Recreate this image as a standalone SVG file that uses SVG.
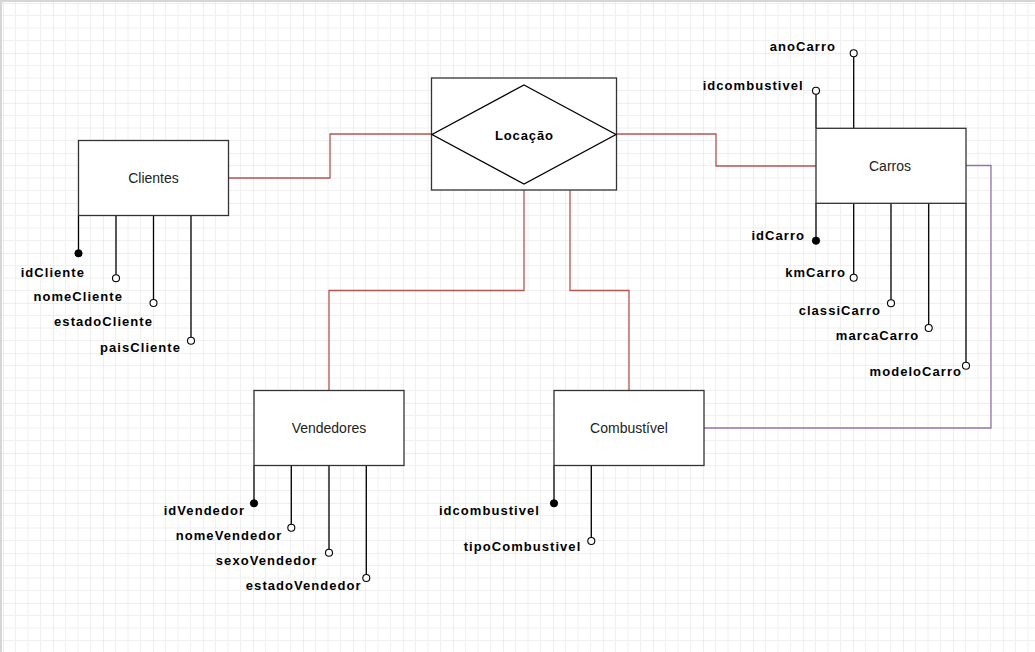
<svg xmlns="http://www.w3.org/2000/svg" width="1035" height="652" viewBox="0 0 1035 652">
<defs>
<pattern id="grid" patternUnits="userSpaceOnUse" x="3" y="3" width="50" height="50">
<path d="M12.5 0V50M25 0V50M37.5 0V50M0 12.5H50M0 25H50M0 37.5H50" stroke="#f0f0f0" stroke-width="1" fill="none"/>
<path d="M0 0V50M0 0H50" stroke="#dedede" stroke-width="1" fill="none"/>
</pattern>
<style>
.ent{fill:#fff;stroke:#333;stroke-width:1.3}
.el{font-family:"Liberation Sans",Arial,sans-serif;font-size:14px;fill:#222;text-anchor:middle}
.al{font-family:"Liberation Sans",Arial,sans-serif;font-size:13px;font-weight:bold;fill:#000;letter-spacing:1.05px;text-anchor:end}
.rl{font-family:"Liberation Sans",Arial,sans-serif;font-size:13px;font-weight:bold;fill:#000;letter-spacing:0.9px;text-anchor:middle}
.ln{stroke:#000;stroke-width:1.3;fill:none}
.oc{fill:#fff;stroke:#000;stroke-width:1.1}
.fc{fill:#000;stroke:#000;stroke-width:1}
.red{stroke:#b85450;stroke-width:1.3;fill:none}
.pur{stroke:#9673a6;stroke-width:1.3;fill:none}
</style>
</defs>
<rect width="1035" height="652" fill="#fff"/>
<rect width="1035" height="652" fill="url(#grid)"/>
<path d="M1 0V652M0 1H1035" stroke="#d6d6d6" stroke-width="2"/>

<g id="connectors">
<polyline class="red" points="229,178 330,178 330,134 431,134"/>
<polyline class="red" points="616,134 716,134 716,166 816,166"/>
<polyline class="red" points="524,190 524,290.5 329,290.5 329,391"/>
<polyline class="red" points="570,190 570,290.5 629,290.5 629,391"/>
<polyline class="pur" points="966,165.5 991,165.5 991,428 704,428"/>
</g>

<g id="locacao">
<rect class="ent" x="431.5" y="78" width="185" height="112" stroke="#000"/>
<polygon points="524,85 616,134.5 524,184 432,134.5" fill="#fff" stroke="#000" stroke-width="1.3"/>
<text class="rl" x="524.4" y="139.5">Locação</text>
</g>

<g id="clientes">
<line class="ln" x1="78.5" y1="215.5" x2="78.5" y2="253"/>
<line class="ln" x1="116" y1="215.5" x2="116" y2="275"/>
<line class="ln" x1="153.5" y1="215.5" x2="153.5" y2="299.5"/>
<line class="ln" x1="191" y1="215.5" x2="191" y2="337"/>
<rect class="ent" x="78.5" y="140.5" width="150" height="75"/>
<text class="el" x="153.5" y="183">Clientes</text>
<circle class="fc" cx="78.5" cy="253.3" r="3.6"/>
<circle class="oc" cx="116" cy="278.3" r="3.5"/>
<circle class="oc" cx="153.5" cy="303" r="3.5"/>
<circle class="oc" cx="191" cy="340.7" r="3.5"/>
<text class="al" x="85" y="276.7">idCliente</text>
<text class="al" x="123" y="301.4">nomeCliente</text>
<text class="al" x="153" y="326.4">estadoCliente</text>
<text class="al" x="181" y="351.7">paisCliente</text>
</g>

<g id="carros">
<line class="ln" x1="816" y1="128" x2="816" y2="94"/>
<line class="ln" x1="853.7" y1="128" x2="853.7" y2="57"/>
<line class="ln" x1="816" y1="203" x2="816" y2="240"/>
<line class="ln" x1="853.7" y1="203" x2="853.7" y2="274"/>
<line class="ln" x1="891" y1="203" x2="891" y2="300"/>
<line class="ln" x1="928.7" y1="203" x2="928.7" y2="324.5"/>
<line class="ln" x1="966" y1="203" x2="966" y2="362"/>
<rect class="ent" x="816" y="128.3" width="150" height="75"/>
<text class="el" x="890" y="171">Carros</text>
<circle class="oc" cx="816" cy="90.7" r="3.5"/>
<circle class="oc" cx="853.7" cy="53.3" r="3.5"/>
<circle class="fc" cx="816" cy="240.7" r="3.6"/>
<circle class="oc" cx="853.7" cy="277.7" r="3.5"/>
<circle class="oc" cx="891" cy="303.3" r="3.5"/>
<circle class="oc" cx="928.7" cy="328" r="3.5"/>
<circle class="oc" cx="966" cy="365.7" r="3.5"/>
<text class="al" x="836" y="51.4">anoCarro</text>
<text class="al" x="803.7" y="89.7">idcombustivel</text>
<text class="al" x="805" y="239.7">idCarro</text>
<text class="al" x="846" y="277">kmCarro</text>
<text class="al" x="881" y="314.7">classiCarro</text>
<text class="al" x="919.3" y="339.7">marcaCarro</text>
<text class="al" x="962" y="376.4">modeloCarro</text>
</g>

<g id="vendedores">
<line class="ln" x1="254" y1="465.5" x2="254" y2="503"/>
<line class="ln" x1="291.3" y1="465.5" x2="291.3" y2="524.5"/>
<line class="ln" x1="329" y1="465.5" x2="329" y2="549.5"/>
<line class="ln" x1="366.3" y1="465.5" x2="366.3" y2="574.5"/>
<rect class="ent" x="254" y="390.5" width="150" height="75"/>
<text class="el" x="329" y="433">Vendedores</text>
<circle class="fc" cx="254" cy="503.3" r="3.6"/>
<circle class="oc" cx="291.3" cy="527.7" r="3.5"/>
<circle class="oc" cx="329" cy="552.7" r="3.5"/>
<circle class="oc" cx="366.3" cy="578" r="3.5"/>
<text class="al" x="245" y="514.7">idVendedor</text>
<text class="al" x="282.3" y="539.7">nomeVendedor</text>
<text class="al" x="317.3" y="564.7">sexoVendedor</text>
<text class="al" x="361.7" y="589.7">estadoVendedor</text>
</g>

<g id="combustivel">
<line class="ln" x1="554" y1="465.5" x2="554" y2="503"/>
<line class="ln" x1="591.3" y1="465.5" x2="591.3" y2="537.5"/>
<rect class="ent" x="554" y="390.5" width="150" height="75"/>
<text class="el" x="629" y="433">Combustível</text>
<circle class="fc" cx="554" cy="503.3" r="3.6"/>
<circle class="oc" cx="591.3" cy="541" r="3.5"/>
<text class="al" x="540" y="514.7">idcombustivel</text>
<text class="al" x="581.3" y="551.4">tipoCombustivel</text>
</g>
</svg>
